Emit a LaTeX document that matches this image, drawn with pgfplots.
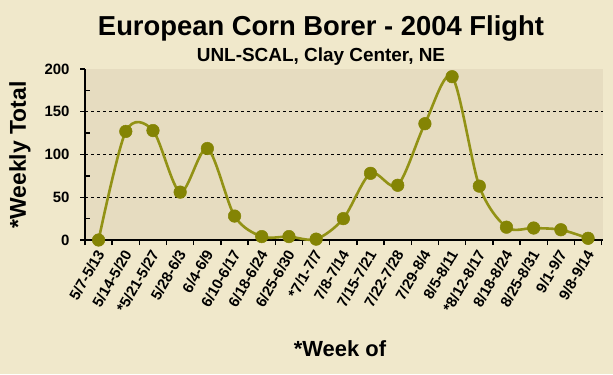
\documentclass[border=0pt]{standalone}
\usepackage{pgfplots}
\pgfplotsset{compat=1.18}
\usepackage{fontspec}
\setmainfont{Liberation Sans}
\definecolor{bgout}{HTML}{F0E8CB}
\definecolor{bgin}{HTML}{E6DCC0}
\definecolor{oliveline}{HTML}{929215}
\definecolor{olivemark}{HTML}{848404}
\begin{document}
\begin{tikzpicture}[x=1bp,y=1bp]
\fill[bgout] (0,0) rectangle (613,374);
\useasboundingbox (0,0) rectangle (613,374);
\begin{axis}[
  at={(85bp,134bp)}, anchor=south west,
  scale only axis, width=518bp, height=171bp,
  xmin=-0.5, xmax=18.55, ymin=0, ymax=200,
  axis x line*=bottom, axis y line*=left,
  axis line style={line width=2bp,-},
  axis background/.style={fill=bgin},
  /pgf/number format/assume math mode=true,
  tick align=outside,
  major tick length=5bp,
  tick style={black, line width=1.4bp},
  xtick={-0.5,0.5,...,18.5},
  xticklabels={},
  extra x ticks={0,1,...,18},
  extra x tick labels={5/7-5/13,5/14-5/20,*5/21-5/27,5/28-6/3,6/4-6/9,6/10-6/17,6/18-6/24,6/25-6/30,*7/1-7/7,7/8-7/14,7/15-7/21,7/22-7/28,7/29-8/4,8/5-8/11,*8/12-8/17,8/18-8/24,8/25-8/31,9/1-9/7,9/8-9/14},
  extra x tick style={major tick length=0pt,
     tick label style={yshift=-11bp, xshift=2bp, rotate=60, anchor=east, font=\fontsize{15}{15}\selectfont\bfseries, inner sep=0bp}},
  ytick={0,50,100,150,200},
  yticklabel style={font=\fontsize{15}{15}\selectfont\bfseries, xshift=-7bp},
  minor ytick={25,75,125,175},
  minor tick length=5bp,
  minor y tick style={xshift=5bp},
  extra y ticks={50,100,150},
  extra y tick labels={},
  extra y tick style={grid=major, major tick length=0pt},
  major grid style={black, dashed, line width=0.6bp, dash pattern=on 3bp off 3bp},
  clip=false,
]
\addplot[color=oliveline, line width=2.6bp, smooth, tension=0.5,
  mark=*, mark size=6.3bp, mark options={fill=olivemark, draw=olivemark, line width=0.5bp}]
  coordinates {
  (0,0) (1,127) (2,128) (3,56) (4,107) (5,28) (6,4) (7,4) (8,1)
  (9,25) (10,78) (11,64) (12,136) (13,191) (14,63) (15,15) (16,14) (17,12) (18,2)
  };
\end{axis}
\node[anchor=base, font=\fontsize{27.5}{27.5}\selectfont\bfseries] at (321,338.3) {European Corn Borer - 2004 Flight};
\node[anchor=base, font=\fontsize{19}{19}\selectfont\bfseries] at (321,313) {UNL-SCAL, Clay Center, NE};
\node[rotate=90, font=\fontsize{23}{23}\selectfont\bfseries] at (20,219) {*Weekly Total};
\node[anchor=base, font=\fontsize{22}{22}\selectfont\bfseries] at (340,17.3) {*Week of};
\end{tikzpicture}
\end{document}
